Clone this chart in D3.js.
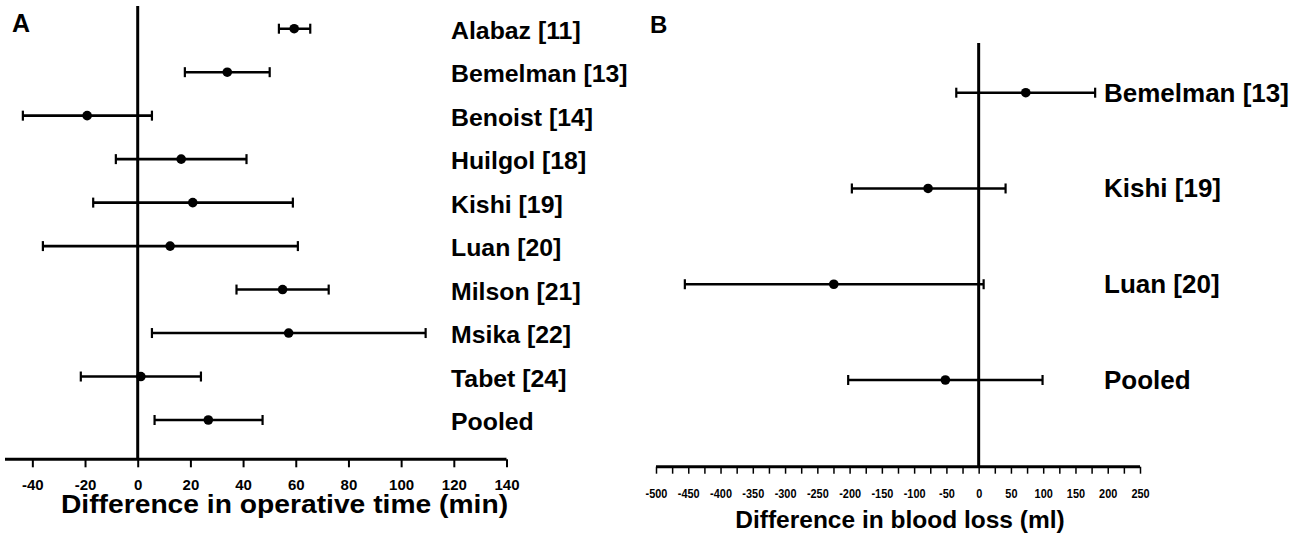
<!DOCTYPE html>
<html>
<head>
<meta charset="utf-8">
<script src="https://cdn.jsdelivr.net/npm/d3@7/dist/d3.min.js"></script>
<style>
  html, body { margin: 0; padding: 0; background: #fff; }
  svg { display: block; }
  text { font-family: "Liberation Sans", Arial, Helvetica, sans-serif; font-weight: bold; fill: #000; }
</style>
</head>
<body>
<svg id="chart" width="1305" height="542"></svg>
<script>
// ---------- Data ----------
// Panel A: difference in operative time (min)
const studiesA = ["Alabaz [11]", "Bemelman [13]", "Benoist [14]", "Huilgol [18]", "Kishi [19]",
                  "Luan [20]", "Milson [21]", "Msika [22]", "Tabet [24]", "Pooled"];
const meanA  = [59.4, 34.0, -19.2, 16.5, 20.9, 12.3, 55.0, 57.3, 1.2, 26.8];
const lowerA = [53.6, 17.9, -43.6, -8.3, -16.9, -36.0, 37.5, 5.4, -21.6, 6.4];
const upperA = [65.5, 50.1, 5.4, 41.3, 58.9, 60.8, 72.5, 109.3, 24.0, 47.4];
const ticksA = [-40, -20, 0, 20, 40, 60, 80, 100, 120, 140];

// Panel B: difference in blood loss (ml)
const studiesB = ["Bemelman [13]", "Kishi [19]", "Luan [20]", "Pooled"];
const meanB  = [73.0, -78.4, -224.5, -51.6];
const lowerB = [-34.7, -196.5, -455.3, -202.2];
const upperB = [180.5, 41.7, 7.7, 99.0];
const ticksB = [-500, -475, -450, -425, -400, -375, -350, -325, -300, -275, -250, -225, -200, -175,
                -150, -125, -100, -75, -50, -25, 0, 25, 50, 75, 100, 125, 150, 175, 200, 225, 250];
const tickLabelsB = [-500, -450, -400, -350, -300, -250, -200, -150, -100, -50, 0, 50, 100, 150, 200, 250];

const titleA = "Difference in operative time (min)";
const titleB = "Difference in blood loss (ml)";

// ---------- Drawing ----------
const svg = d3.select("#chart");

function forest(cfg) {
  const g = svg.append("g");
  const x = d3.scaleLinear().domain(cfg.domain).range(cfg.xRange);
  const y = d3.scalePoint().domain(cfg.studies).range(cfg.yRange);
  const rows = cfg.studies.map((s, i) => ({ s, m: cfg.mean[i], lo: cfg.lower[i], hi: cfg.upper[i] }));

  // x axis
  const axis = d3.axisBottom(x)
    .tickValues(cfg.ticks)
    .tickSize(cfg.tickSize)
    .tickPadding(cfg.tickPadding)
    .tickSizeOuter(0)
    .tickFormat(d => cfg.labelTicks.includes(d) ? String(d) : "");
  const ax = g.append("g").attr("transform", `translate(0,${cfg.axisY})`).call(axis);
  ax.attr("font-size", null).attr("font-family", null);
  ax.select(".domain")
    .attr("d", `M${cfg.axisX0},0H${x(cfg.domain[1])}`)
    .attr("stroke", "#000").attr("stroke-width", 3);
  ax.selectAll(".tick line").attr("stroke", "#000").attr("stroke-width", cfg.tickWidth);
  ax.selectAll(".tick text")
    .attr("fill", "#000")
    .style("font-size", cfg.tickFont + "px")
    .style("font-weight", "bold")
    .attr("transform", `scale(${cfg.tickScaleX},1)`);

  // zero line
  g.append("line")
    .attr("x1", x(0)).attr("x2", x(0))
    .attr("y1", cfg.zeroTop).attr("y2", cfg.axisY)
    .attr("stroke", "#000").attr("stroke-width", 3);

  // error bars
  const bars = g.append("g").selectAll("g").data(rows).join("g");
  bars.append("line")
    .attr("x1", d => x(d.lo)).attr("x2", d => x(d.hi))
    .attr("y1", d => y(d.s)).attr("y2", d => y(d.s))
    .attr("stroke", "#000").attr("stroke-width", 2.6);
  bars.append("line")
    .attr("x1", d => x(d.lo)).attr("x2", d => x(d.lo))
    .attr("y1", d => y(d.s) - 5).attr("y2", d => y(d.s) + 5)
    .attr("stroke", "#000").attr("stroke-width", 2.2);
  bars.append("line")
    .attr("x1", d => x(d.hi)).attr("x2", d => x(d.hi))
    .attr("y1", d => y(d.s) - 5).attr("y2", d => y(d.s) + 5)
    .attr("stroke", "#000").attr("stroke-width", 2.2);
  bars.append("circle")
    .attr("cx", d => x(d.m)).attr("cy", d => y(d.s))
    .attr("r", 4.8).attr("fill", "#000");

  // study labels
  g.append("g").selectAll("text").data(rows).join("text")
    .attr("transform", d => `translate(${cfg.labelX},${y(d.s) + cfg.labelDy + cfg.labelFont * 0.358}) scale(${cfg.labelScaleX},1)`)
    .style("font-size", cfg.labelFont + "px")
    .text(d => d.s);

  // axis title
  g.append("text")
    .attr("transform", `translate(${cfg.titleX},${cfg.titleY}) scale(${cfg.titleScaleX},1)`)
    .attr("text-anchor", "middle")
    .style("font-size", cfg.titleFont + "px")
    .text(cfg.title);

  // panel letter
  g.append("text")
    .attr("x", cfg.letterX).attr("y", cfg.letterY)
    .style("font-size", cfg.letterFont + "px")
    .text(cfg.letter);
}

forest({
  studies: studiesA, mean: meanA, lower: lowerA, upper: upperA,
  domain: [-50, 140], xRange: [6, 506.5], yRange: [28.7, 420],
  ticks: ticksA, labelTicks: ticksA,
  axisY: 459.3, axisX0: 5, zeroTop: 6,
  tickSize: 8, tickPadding: 12, tickWidth: 2, tickFont: 15, tickScaleX: 1,
  labelX: 451, labelDy: 2, labelFont: 23, labelScaleX: 1.08,
  title: titleA, titleX: 284.5, titleY: 513, titleFont: 25, titleScaleX: 1.13,
  letter: "A", letterX: 12, letterY: 32, letterFont: 25
});

forest({
  studies: studiesB, mean: meanB, lower: lowerB, upper: upperB,
  domain: [-500, 250], xRange: [656, 1140], yRange: [92.7, 380],
  ticks: ticksB, labelTicks: tickLabelsB,
  axisY: 466.7, axisX0: 656, zeroTop: 43,
  tickSize: 7, tickPadding: 15.5, tickWidth: 1.5, tickFont: 13, tickScaleX: 0.84,
  labelX: 1104, labelDy: 0, labelFont: 25, labelScaleX: 1.04,
  title: titleB, titleX: 900, titleY: 527.5, titleFont: 24.5, titleScaleX: 1,
  letter: "B", letterX: 650, letterY: 33, letterFont: 24
});
</script>
</body>
</html>
